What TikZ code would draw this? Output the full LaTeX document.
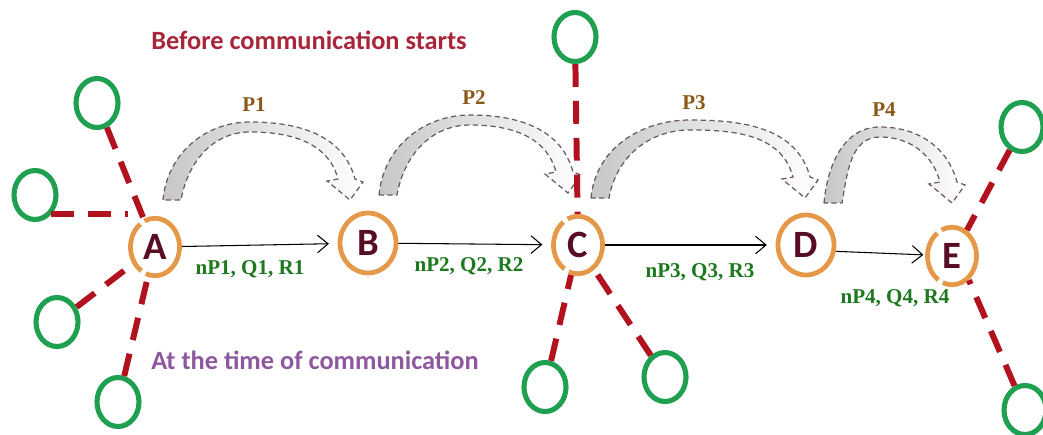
\documentclass[tikz,border=0pt]{standalone}
\usepackage{fontspec}
\setmainfont{Liberation Serif}
\newfontfamily\calibri{Carlito}
\usetikzlibrary{shapes.geometric,arrows.meta}

\definecolor{ringorange}{RGB}{228,152,72}
\definecolor{peergreen}{RGB}{30,160,80}
\definecolor{linkred}{RGB}{178,18,30}
\definecolor{lettermaroon}{RGB}{88,14,34}
\definecolor{costgreen}{RGB}{30,120,30}
\definecolor{pathbrown}{RGB}{140,88,24}
\definecolor{titlered}{RGB}{168,38,58}
\definecolor{titlepurple}{RGB}{142,88,158}
\definecolor{hopline}{RGB}{110,88,94}

\tikzstyle{relay}=[ellipse, draw=ringorange, line width=2.7pt, minimum width=0.98cm, minimum height=1.15cm, inner sep=0pt, font=\calibri\bfseries\fontsize{22}{22}\selectfont, text=lettermaroon]
\tikzstyle{broken}=[dash pattern=on 30pt off 3pt]
\tikzstyle{peer}=[ellipse, draw=peergreen, line width=2.9pt, minimum width=0.84cm, minimum height=0.98cm]
\tikzstyle{link}=[draw=linkred, line width=3.4pt, dash pattern=on 13pt off 8pt]
\tikzstyle{hop}=[-{Straight Barb[length=6pt,width=10pt]}, line width=0.6pt, shorten >=5pt]
\tikzstyle{cost}=[font=\bfseries\fontsize{12}{12}\selectfont, text=costgreen]
\tikzstyle{pathlabel}=[font=\bfseries\fontsize{12}{12}\selectfont, text=pathbrown]
\tikzstyle{caption}=[font=\calibri\bfseries\fontsize{15}{15}\selectfont]

% hollow bent arrow: base x, base y, tip x, tip y, peak x, peak y, label name, label
\newcommand{\pathhop}[8]{
  \draw[draw=hopline, dash pattern=on 3pt off 2pt, line width=0.7pt, left color=black!22, right color=white]
    ({#1-9},#2) to[out=85,in=180] (#5,#6) to[out=0,in=105] ({#3+5},{#4+21})
    -- ({#3+13},{#4+18}) -- (#3,#4) -- ({#3-23},{#4+19}) -- ({#3-12},{#4+21})
    to[out=105,in=0] (#5,{#6-10}) to[out=180,in=80] ({#1+9},#2) -- cycle;
  \node[pathlabel] (#7) at ({#5+4},{#6+17}) {#8};
}

\begin{document}
\begin{tikzpicture}[x=0.02cm, y=0.02cm]
  \useasboundingbox (0,0) rectangle (1043,434);

  \node[caption, text=titlered] (before) at (309,394) {Before communication starts};
  \node[caption, text=titlepurple] (during) at (315,74) {At the time of communication};

  \pathhop{172}{234}{350}{234}{250}{312}{hop1}{P1}
  \pathhop{388}{239}{568}{241}{470}{319}{hop2}{P2}
  \pathhop{600}{236}{805}{236}{690}{314}{hop3}{P3}
  \pathhop{833}{231}{952}{231}{880}{307}{hop4}{P4}

  \node[relay, broken] (A) at (155,187) {A};
  \node[relay, minimum width=1.12cm, minimum height=1.2cm] (B) at (368,191) {B};
  \node[relay, broken] (C) at (578,189) {C};
  \node[relay, minimum width=1.12cm, minimum height=1.2cm] (D) at (806,189) {D};
  \node[relay, broken] (E) at (952,178) {E};

  \node[peer] (pA1) at (97,331) {};
  \node[peer] (pA2) at (35,239) {};
  \node[peer] (pA3) at (57,112) {};
  \node[peer] (pA4) at (118,32) {};
  \node[peer] (pC1) at (575,397) {};
  \node[peer] (pC2) at (545,47) {};
  \node[peer] (pC3) at (665,57) {};
  \node[peer] (pE1) at (1022,307) {};
  \node[peer] (pE2) at (1025,24) {};

  \draw[link] (pA1) -- (A);
  \draw[link] (pA2.-50) -- (pA2.-50 -| A.west);
  \draw[link] (pA3) -- (A);
  \draw[link] (pA4) -- (A);
  \draw[link] (pC1) -- (C);
  \draw[link] (pC2) -- (C);
  \draw[link] (pC3) -- (C);
  \draw[link] (pE1) -- (E.60);
  \draw[link] (pE2) -- (E.-55);

  \draw[hop] (A) -- (B);
  \draw[hop] (B) -- (C);
  \draw[hop] (C) -- (D);
  \draw[hop, shorten >=1pt] (D.-12) -- (E);

  \node[cost] (costAB) at (250,165) {nP1, Q1, R1};
  \node[cost] (costBC) at (469,168) {nP2, Q2, R2};
  \node[cost] (costCD) at (700,162) {nP3, Q3, R3};
  \node[cost] (costDE) at (895,136) {nP4, Q4, R4};
\end{tikzpicture}
\end{document}
